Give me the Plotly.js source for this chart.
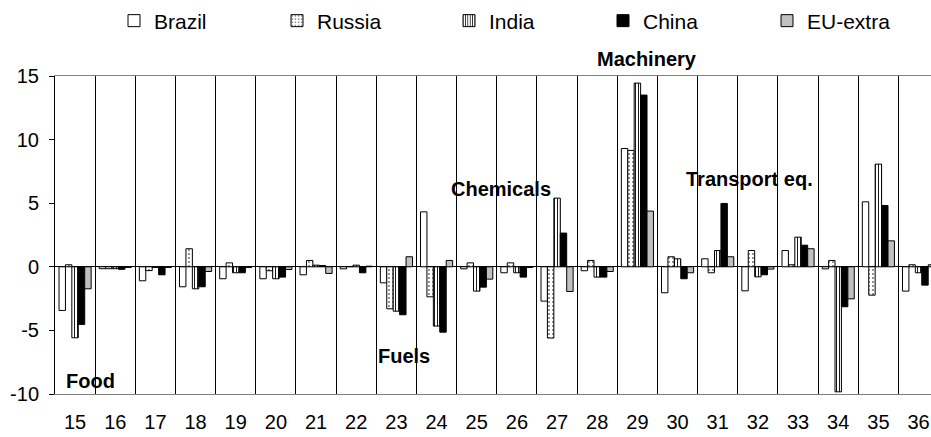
<!DOCTYPE html>
<html>
<head>
<meta charset="utf-8">
<script src="https://cdn.plot.ly/plotly-3.0.1.min.js"></script>
<style>html,body{margin:0;padding:0;background:#fff;}#chart{width:931px;height:437px;}</style>
</head>
<body>
<div id="chart"></div>
<script>
const categories = ['15','16','17','18','19','20','21','22','23','24','25','26','27','28','29','30','31','32','33','34','35','36'];
const brazil = [-3.43, -0.15, -1.1, -1.57, -0.94, -0.94, -0.63, -0.16, -1.26, 4.32, -0.16, -0.47, -2.7, -0.31, 9.3, -2.04, 0.63, -1.89, 1.28, -0.16, 5.11, -1.91];
const russia = [0.16, -0.15, -0.3, 1.42, 0.31, -0.31, 0.5, 0.02, -3.3, -2.36, 0.31, 0.31, -5.6, 0.5, 9.15, 0.79, -0.47, 1.28, 0.16, 0.5, -2.23, 0.16];
const india = [-5.58, -0.15, -0.05, -1.73, -0.47, -0.94, 0.13, 0.13, -3.49, -4.66, -1.91, -0.47, 5.4, -0.81, 14.44, 0.63, 1.28, -0.79, 2.33, -9.83, 8.07, -0.47];
const china = [-4.53, -0.2, -0.63, -1.57, -0.47, -0.81, 0.1, -0.47, -3.77, -5.14, -1.6, -0.81, 2.65, -0.81, 13.5, -0.94, 4.98, -0.63, 1.7, -3.14, 4.82, -1.44];
const euExtra = [-1.73, -0.05, -0.05, -0.37, -0.05, -0.21, -0.52, 0.05, 0.79, 0.5, -0.97, -0.05, -1.94, -0.37, 4.38, -0.47, 0.79, -0.18, 1.42, -2.52, 2.04, 0.16];
const seriesNames = ['Brazil','Russia','India','China','EU-extra'];
const yTicks = [-10, -5, 0, 5, 10, 15];
const sectorLabels = ['Food','Fuels','Chemicals','Machinery','Transport eq.'];

const FONT = '"Liberation Sans", Arial, sans-serif';
const line = {color: '#000', width: 1};
const styles = [
  {color: '#ffffff', line: line},
  {color: '#ffffff', line: line, pattern: {shape: '.', fgcolor: '#000', bgcolor: '#fff', size: 4, solidity: 0.12}},
  {color: '#ffffff', line: line, pattern: {shape: '|', fgcolor: '#000', bgcolor: '#fff', size: 3, solidity: 0.3}},
  {color: '#000000', line: line},
  {color: '#c0c0c0', line: line}
];
const legendWidths = [118, 127, 109, 119, 80];
const allSeries = [brazil, russia, india, china, euExtra];

const data = allSeries.map((vals, i) => ({
  type: 'bar',
  name: seriesNames[i],
  x: categories,
  y: vals,
  marker: styles[i],
  legendwidth: legendWidths[i],
  hoverinfo: 'x+y+name'
}));

const W = 931, H = 437;
const annPos = [
  {x: 0.39, y: -8.96, ref: 'y'},
  {x: 8.2, y: -7.0, ref: 'y'},
  {x: 10.6, y: 6.09, ref: 'y'},
  {x: 14.23, y: 1.053, ref: 'paper'},
  {x: 16.8, y: 6.92, ref: 'y'}
];
const annotations = sectorLabels.map((t, i) => ({
  text: t, xref: 'x', yref: annPos[i].ref, x: annPos[i].x, y: annPos[i].y,
  showarrow: false, xanchor: 'center', yanchor: 'middle',
  font: {family: FONT, size: 20, color: '#000', weight: 'bold'}
}));

const layout = {
  width: W, height: H,
  margin: {l: 55, r: 0, t: 76, b: 43, pad: 0},
  paper_bgcolor: '#fff', plot_bgcolor: '#fff',
  font: {family: FONT, size: 20, color: '#000'},
  barmode: 'group', bargap: 0.2, bargroupgap: 0,
  showlegend: true,
  legend: {
    orientation: 'h', xref: 'container', yref: 'container',
    x: 114 / W, xanchor: 'left', y: 1 - 21 / H, yanchor: 'middle',
    font: {family: FONT, size: 21, color: '#000'},
    bgcolor: 'rgba(0,0,0,0)', borderwidth: 0, traceorder: 'normal'
  },
  xaxis: {
    type: 'category', range: [-0.5, 21.31], tickson: 'boundaries',
    showgrid: true, gridcolor: '#000', gridwidth: 1,
    showline: true, linecolor: '#808080', linewidth: 1, mirror: true,
    ticks: '', tickfont: {family: FONT, size: 20, color: '#000'},
    ticklabelstandoff: 10, fixedrange: true
  },
  yaxis: {
    range: [-10, 15], tickvals: yTicks, ticktext: yTicks.map(String),
    showgrid: false, zeroline: true, zerolinecolor: '#000', zerolinewidth: 1,
    showline: true, linecolor: '#000', linewidth: 1,
    ticks: 'outside', ticklen: 5, tickcolor: '#000', tickwidth: 1,
    tickfont: {family: FONT, size: 20, color: '#000'},
    ticklabelstandoff: 6, fixedrange: true
  },
  annotations: annotations
};

Plotly.newPlot('chart', data, layout, {displayModeBar: false, staticPlot: true});
</script>
</body>
</html>
